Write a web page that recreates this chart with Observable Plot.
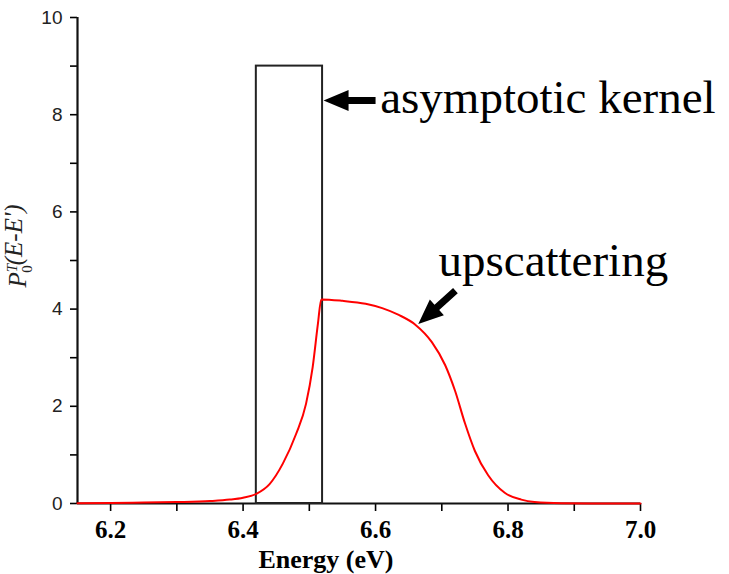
<!DOCTYPE html>
<html>
<head>
<meta charset="utf-8">
<script src="https://cdn.jsdelivr.net/npm/d3@7"></script>
<script src="https://cdn.jsdelivr.net/npm/@observablehq/plot@0.6"></script>
<style>
  html, body { margin: 0; padding: 0; background: #fff; }
  #chart { width: 729px; height: 574px; }
</style>
</head>
<body>
<div id="chart"></div>
<script>
// Red upscattering curve: energy (eV) and P values
const energy = [6.15, 6.20, 6.25, 6.30, 6.35, 6.38, 6.40, 6.42, 6.44, 6.46, 6.48, 6.495, 6.505, 6.513, 6.518,
                6.55, 6.585, 6.61, 6.635, 6.66, 6.685, 6.705, 6.72, 6.735, 6.75, 6.77, 6.795, 6.82, 6.84, 6.88, 6.95, 7.0];
const prob   = [0.005, 0.01, 0.02, 0.03, 0.05, 0.08, 0.12, 0.2, 0.4, 0.82, 1.43, 2.05, 2.8, 3.7, 4.2,
                4.17, 4.11, 4.02, 3.88, 3.68, 3.32, 2.85, 2.32, 1.65, 1.08, 0.58, 0.22, 0.08, 0.03, 0.005, 0, 0];

// Asymptotic kernel box
const kernelStart = [6.42];
const kernelEnd = [6.52];
const kernelHeight = [9];

// Ticks
const xTicks = [6.2, 6.4, 6.6, 6.8, 7.0];
const xMinorTicks = [6.3, 6.5, 6.7, 6.9];
const yTicks = [0, 2, 4, 6, 8, 10];
const yMinorTicks = [1, 3, 5, 7, 9];

// Annotations
const labelText = ["asymptotic kernel", "upscattering"];
const labelX = [6.607, 6.695];
const labelY = [8.025, 4.69];
const arrowX = [6.600, 6.7206];
const arrowY = [8.29, 4.38];
const arrowAngle = [270, 228];
const arrowLength = [52, 50];

const curve = energy.map((e, i) => ({e, p: prob[i]}));
const kernel = kernelStart.map((s, i) => ({x1: s, x2: kernelEnd[i], y2: kernelHeight[i]}));
const labels = labelText.map((t, i) => ({t, x: labelX[i], y: labelY[i]}));
const arrows = arrowX.map((x, i) => ({x, y: arrowY[i], a: arrowAngle[i], l: arrowLength[i]}));
const xAll = [...xTicks, ...xMinorTicks];
const yAll = [...yTicks, ...yMinorTicks];
const fmtX = d3.format(".1f");

const fatArrow = {
  draw(ctx, l) {
    const hl = 25, hw = 10.5, sw = 3.5;
    ctx.moveTo(-sw, 0);
    ctx.lineTo(-sw, -(l - hl));
    ctx.lineTo(-hw, -(l - hl));
    ctx.lineTo(0, -l);
    ctx.lineTo(hw, -(l - hl));
    ctx.lineTo(sw, -(l - hl));
    ctx.lineTo(sw, 0);
    ctx.closePath();
  }
};

const serif = "Liberation Serif, Times New Roman, DejaVu Serif, serif";
const sans = "Liberation Sans, Arial, sans-serif";

const chart = Plot.plot({
  width: 729,
  height: 574,
  marginTop: 17,
  marginBottom: 71,
  marginLeft: 77,
  marginRight: 89,
  style: {background: "#fff", color: "#000", overflow: "visible"},
  x: {domain: [6.15, 7.0]},
  y: {domain: [0, 10]},
  length: {type: "identity"},
  marks: [
    Plot.axisY({ticks: yAll, anchor: "left", tickSize: 7, tickPadding: 8, tickFormat: d => yTicks.includes(d) ? String(d) : "", strokeWidth: 1.6, label: null}),
    Plot.axisX({ticks: xAll, anchor: "bottom", tickSize: 8, tickPadding: 9, tickFormat: d => xTicks.includes(d) ? fmtX(d) : "", strokeWidth: 1.6, label: null}),
    Plot.ruleX([6.15], {y1: 0, y2: 10, stroke: "#111", strokeWidth: 2.2}),
    Plot.ruleY([0], {x1: 6.15, x2: 7.0, stroke: "#111", strokeWidth: 1.8}),
    Plot.rect(kernel, {x1: "x1", x2: "x2", y1: 0, y2: "y2", fill: "none", stroke: "#222", strokeWidth: 2}),
    Plot.line(curve, {x: "e", y: "p", stroke: "#ff0000", strokeWidth: 2, curve: "monotone-x"}),
    Plot.text(labels, {x: "x", y: "y", text: "t", textAnchor: "start", lineAnchor: "bottom", fontSize: 47, fill: "#000", className: "annot"}),
    Plot.vector(arrows, {x: "x", y: "y", rotate: "a", length: "l", anchor: "start", shape: fatArrow, fill: "#000", stroke: "none"}),
    Plot.text(["Energy (eV)"], {x: () => 6.525, y: () => -1.317, text: d => d, textAnchor: "middle", lineAnchor: "bottom", fontSize: 26, fill: "#000", className: "xlab"}),
    Plot.text(["P(E-E')"], {x: () => 6.0715, y: () => 5.3, text: d => d, rotate: -90, textAnchor: "middle", lineAnchor: "bottom", fontSize: 25, fill: "#222", className: "ylab"})
  ]
});

document.getElementById("chart").appendChild(chart);

const svg = d3.select(chart);
// Fonts applied as inline styles
svg.selectAll("[aria-label='y-axis tick label'], [aria-label='y-axis tick label'] text")
  .style("font-family", sans).style("font-size", "19px").style("fill", "#222");
svg.selectAll("[aria-label='x-axis tick label'], [aria-label='x-axis tick label'] text")
  .style("font-family", serif).style("font-size", "25px").style("font-weight", "bold").style("fill", "#000");
svg.selectAll(".annot, .annot text").style("font-family", serif).style("font-size", "47px");
svg.selectAll(".xlab, .xlab text").style("font-family", serif).style("font-size", "26px").style("font-weight", "bold");
svg.selectAll(".ylab, .ylab text").style("font-family", serif).style("font-size", "25px").style("font-style", "italic");

// Rich y label: P with sub 0 and super T
const yl = svg.select(".ylab text");
if (!yl.empty()) {
  yl.text(null);
  yl.append("tspan").text("P");
  yl.append("tspan").style("font-size", "15px").attr("dy", "-0.55em").text("T");
  yl.append("tspan").style("font-size", "15px").attr("dx", "-0.6em").attr("dy", "0.95em").style("font-style", "normal").text("0");
  yl.append("tspan").attr("dy", "-0.4em").text("(E-E')");
}
</script>
</body>
</html>
